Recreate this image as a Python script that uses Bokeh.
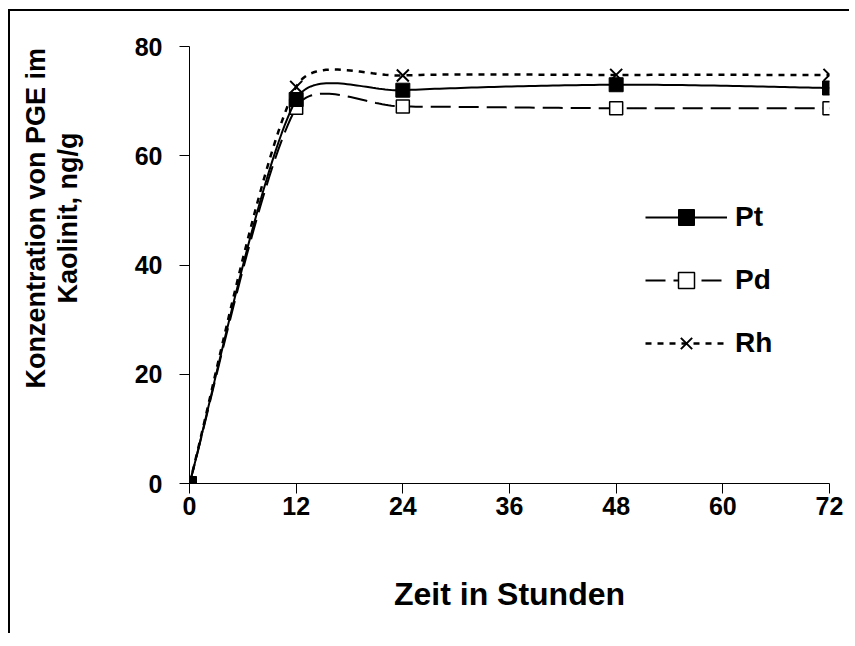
import numpy as np
from bokeh.plotting import figure
from bokeh.models import Range1d, Legend, LegendItem, Title, FixedTicker
from bokeh.embed import file_html
from bokeh.resources import INLINE

# ---- data ----
hours = [0, 12, 24, 48, 72]
pt = [0, 70.3, 72.0, 73.0, 72.4]
pd_ = [0, 68.8, 69.0, 68.7, 68.7]
rh = [0, 72.6, 74.7, 74.8, 74.8]
x_ticks = [0, 12, 24, 36, 48, 60, 72]
y_ticks = [0, 20, 40, 60, 80]

FONT = "Liberation Sans"
FW, FH = 640, 437
XMAX, YMAX = 72, 80
sx, sy = FW / XMAX, FH / YMAX


def smooth(xs, ys, n=40):
    """Excel-like smoothed curve (Bezier, control arms capped)."""
    P = np.array([[x * sx, y * sy] for x, y in zip(xs, ys)], dtype=float)
    out = []
    for i in range(len(P) - 1):
        p0 = P[i - 1] if i > 0 else P[i]
        p1, p2 = P[i], P[i + 1]
        p3 = P[i + 2] if i + 2 < len(P) else P[i + 1]
        d12 = np.linalg.norm(p2 - p1)
        v1 = (p2 - p0) / 6.0
        v2 = (p3 - p1) / 6.0
        for v in (v1, v2):
            nv = np.linalg.norm(v)
            if nv > d12 / 3.0:
                v *= (d12 / 3.0) / nv
        c1, c2 = p1 + v1, p2 - v2
        t = np.linspace(0, 1, n)[:, None]
        seg = ((1 - t) ** 3) * p1 + 3 * t * (1 - t) ** 2 * c1 + 3 * t ** 2 * (1 - t) * c2 + t ** 3 * p2
        if i > 0:
            seg = seg[1:]
        out.append(seg)
    pts = np.vstack(out)
    return pts[:, 0] / sx, pts[:, 1] / sy


p = figure(output_backend="svg", toolbar_location=None,
           frame_width=FW, frame_height=FH,
           x_range=Range1d(0, XMAX), y_range=Range1d(0, YMAX),
           min_border_left=179, min_border_top=35, min_border_right=20, min_border_bottom=150)
p.outline_line_color = None
p.xgrid.visible = False
p.ygrid.visible = False
p.background_fill_color = "white"
p.border_fill_color = "white"

for ax in (p.xaxis[0], p.yaxis[0]):
    ax.axis_line_color = "black"
    ax.axis_line_width = 1
    ax.major_tick_line_color = "black"
    ax.major_tick_out = 10
    ax.major_tick_in = 0
    ax.minor_tick_line_color = None
    ax.major_label_text_font = FONT
    ax.major_label_text_font_style = "bold"
    ax.major_label_text_font_size = "25px"
    ax.major_label_text_color = "black"

p.xaxis.ticker = FixedTicker(ticks=x_ticks)
p.yaxis.ticker = FixedTicker(ticks=y_ticks)
p.xaxis.major_label_standoff = 3
p.yaxis.major_label_standoff = 17

p.xaxis.axis_label = "Zeit in Stunden"
p.xaxis.axis_label_text_font = FONT
p.xaxis.axis_label_text_font_style = "bold"
p.xaxis.axis_label_text_font_size = "32px"
p.xaxis.axis_label_text_color = "black"
p.xaxis.axis_label_standoff = 58

# y-axis title (two lines), stacked outward from the axis
spacer = Title(text=" ", text_font_size="10px", standoff=36)
t1 = Title(text="Kaolinit, ng/g", align="left", offset=180, standoff=0,
           text_font=FONT, text_font_style="bold", text_font_size="27px", text_color="black")
t2 = Title(text="Konzentration von PGE im", align="left", offset=95, standoff=0,
           text_font=FONT, text_font_style="bold", text_font_size="27px", text_color="black")
p.add_layout(spacer, "left")
p.add_layout(t1, "left")
p.add_layout(t2, "left")

# series
x_pt, y_pt = smooth(hours, pt)
x_pd, y_pd = smooth(hours, pd_)
x_rh, y_rh = smooth(hours, rh)

l_pd = p.line(x_pd, y_pd, line_color="black", line_width=2, line_dash="20 8")
s_pd = p.scatter(hours, pd_, marker="square", size=13, fill_color="white", line_color="black", line_width=1.5)
l_rh = p.line(x_rh, y_rh, line_color="black", line_width=2.5, line_dash="6 6")
s_rh = p.scatter(hours, rh, marker="x", size=17, line_color="black", line_width=2)
l_pt = p.line(x_pt, y_pt, line_color="black", line_width=2)
s_pt = p.scatter(hours, pt, marker="square", size=14, fill_color="black", line_color="black")

legend = Legend(items=[LegendItem(label="Pt", renderers=[l_pt, s_pt]),
                       LegendItem(label="Pd", renderers=[l_pd, s_pd]),
                       LegendItem(label="Rh", renderers=[l_rh, s_rh])],
                location=(456, 120), glyph_width=82, glyph_height=40, label_height=40,
                spacing=23, padding=0, margin=0, label_standoff=8,
                border_line_color=None, background_fill_alpha=0,
                label_text_font=FONT, label_text_font_style="bold",
                label_text_font_size="28px", label_text_color="black")
p.add_layout(legend, "center")

p.styles = {"margin-left": "8px", "margin-top": "9px",
            "border-left": "2px solid black", "border-top": "2px solid black"}

open("out.html", "w").write(file_html(p, INLINE))
